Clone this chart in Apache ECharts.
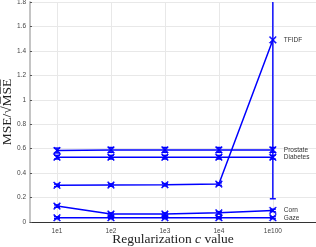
<!DOCTYPE html>
<html><head><meta charset="utf-8">
<script src="https://cdn.jsdelivr.net/npm/echarts@6/dist/echarts.min.js"></script>
<style>html,body{margin:0;padding:0;background:#fff}#c{width:316px;height:247px}</style>
</head><body><div id="c"></div>
<script>
const categories = ['1e1','1e2','1e3','1e4','1e100'];
const yTicks = [0,0.2,0.4,0.6,0.8,1,1.2,1.4,1.6,1.8];
const seriesNames = ['TFIDF','Prostate','Diabetes','Corn','Gaze'];
const tfidf = [0.30,0.302,0.305,0.31,1.49];
const tfidfErr = [0.01,0.01,0.01,0.01,1.3];
const prostate = [0.585,0.59,0.59,0.59,0.59];
const prostateErr = [0.02,0.02,0.02,0.02,0.02];
const diabetes = [0.53,0.53,0.53,0.53,0.53];
const diabetesErr = [0.015,0.015,0.015,0.015,0.015];
const corn = [0.13,0.065,0.065,0.075,0.095];
const cornErr = [0.01,0.01,0.01,0.01,0.01];
const gaze = [0.035,0.035,0.035,0.035,0.035];
const gazeErr = [0.008,0.008,0.008,0.008,0.008];

const values = [tfidf, prostate, diabetes, corn, gaze];
const errs = [tfidfErr, prostateErr, diabetesErr, cornErr, gazeErr];
const BLUE = '#0000ff';
const YMAX = yTicks[yTicks.length-1];

const series = [];
values.forEach((vals, si) => {
  series.push({
    type: 'line', name: seriesNames[si],
    data: vals.map((v, i) => [i + 1, v]),
    symbol: 'path://M1,0L5,4L9,0L10,1L6,5L10,9L9,10L5,6L1,10L0,9L4,5L0,1Z',
    symbolSize: 7,
    itemStyle: { color: BLUE, borderColor: BLUE, borderWidth: 0.6 },
    lineStyle: { color: BLUE, width: 1.5 },
    z: 3,
    endLabel: {
      show: true, formatter: seriesNames[si], color: '#333',
      fontSize: 6.5, fontFamily: 'Liberation Sans', distance: 11
    },
    markLine: si === 0 ? {
      silent: true, symbol: 'none', label: { show: false },
      lineStyle: { color: '#e8e8e8', width: 1, type: 'solid' },
      data: categories.map((c, i) => ({ xAxis: i + 1 })),
      z: 0
    } : undefined
  });
  series.push({
    type: 'custom', name: seriesNames[si] + ' err',
    data: vals.map((v, i) => [i + 1, v - errs[si][i], v + errs[si][i]]),
    z: 2,
    renderItem: function (params, api) {
      const x = api.value(0);
      const lo = api.value(1);
      const hi = Math.min(api.value(2), YMAX);
      const pLo = api.coord([x, lo]);
      const pHi = api.coord([x, hi]);
      const w = 3;
      const st = { stroke: BLUE, lineWidth: 1.4 };
      const children = [
        { type: 'line', shape: { x1: pLo[0], y1: pLo[1], x2: pHi[0], y2: pHi[1] }, style: st },
        { type: 'line', shape: { x1: pLo[0] - w, y1: pLo[1], x2: pLo[0] + w, y2: pLo[1] }, style: st }
      ];
      if (api.value(2) <= YMAX) {
        children.push({ type: 'line', shape: { x1: pHi[0] - w, y1: pHi[1], x2: pHi[0] + w, y2: pHi[1] }, style: st });
      }
      return { type: 'group', children: children };
    }
  });
});

const chart = echarts.init(document.getElementById('c'), null, { renderer: 'canvas' });
chart.setOption({
  animation: false,
  backgroundColor: '#fff',
  grid: { left: 30, right: 0, top: 2, bottom: 25, containLabel: false, outerBoundsMode: 'none' },
  xAxis: {
    type: 'value', min: 0.5, max: 5.8, interval: 0.5,
    name: '{r|Regularization }{i|c}{r| value}',
    nameLocation: 'middle', nameGap: 10, nameMoveOverlap: false,
    nameTextStyle: {
      rich: {
        r: { fontFamily: 'Liberation Serif', fontSize: 13.5, color: '#222' },
        i: { fontFamily: 'Liberation Serif', fontStyle: 'italic', fontSize: 13.5, color: '#222' }
      }
    },
    axisLine: { lineStyle: { color: '#333', width: 1 } },
    axisTick: { show: false },
    splitLine: { show: false },
    axisLabel: {
      fontSize: 6.5, color: '#444', fontFamily: 'Liberation Sans', margin: 6,
      formatter: function (v) { return Number.isInteger(v) && v >= 1 && v <= categories.length ? categories[v - 1] : ''; },
      showMaxLabel: false
    }
  },
  yAxis: {
    type: 'value', min: 0, max: YMAX, interval: 0.2,
    name: 'MSE/\u221AM\u0305S\u0305E\u0305',
    nameLocation: 'middle', nameGap: 16, nameMoveOverlap: false,
    nameTextStyle: { fontFamily: 'Liberation Serif', fontSize: 13.5, color: '#222' },
    axisLine: { show: true, lineStyle: { color: '#c4c4c4', width: 2 } },
    axisTick: { show: true, inside: true, length: 2, lineStyle: { color: '#555' } },
    splitLine: { show: true, lineStyle: { color: '#e8e8e8', width: 1 } },
    axisLabel: {
      fontSize: 6.5, color: '#444', fontFamily: 'Liberation Sans', margin: 4,
      formatter: function (v) { return String(Math.round(v * 10) / 10); }
    }
  },
  series: series
});
</script></body></html>
